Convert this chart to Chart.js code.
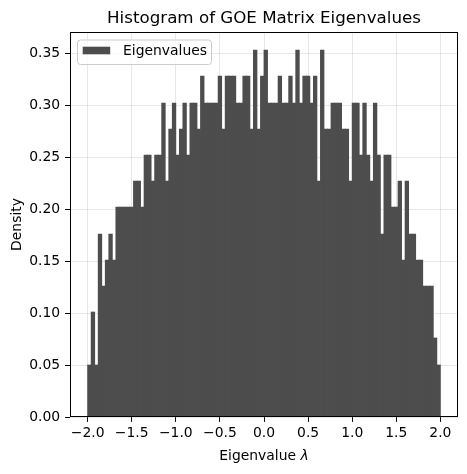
<!DOCTYPE html>
<html>
<head>
<meta charset="utf-8">
<script src="https://cdn.jsdelivr.net/npm/chart.js@4.4.1/dist/chart.umd.min.js"></script>
<style>
  html, body { margin: 0; padding: 0; background: #fff; }
</style>
</head>
<body>
<canvas id="hist" width="467" height="474"></canvas>
<script>
// 100 bins of width 0.04 covering -2 .. 2
const binStart = -2.0;
const binWidth = 0.04;

// density of each bin
const density = [
    0.050, 0.101, 0.050, 0.176, 0.126, 0.151, 0.176, 0.151, 0.202, 0.202,
    0.202, 0.202, 0.202, 0.227, 0.227, 0.202, 0.252, 0.252, 0.227, 0.252,
    0.252, 0.302, 0.227, 0.277, 0.302, 0.252, 0.277, 0.302, 0.252, 0.302,
    0.302, 0.277, 0.328, 0.302, 0.302, 0.302, 0.302, 0.328, 0.277, 0.328,
    0.328, 0.328, 0.302, 0.302, 0.328, 0.328, 0.277, 0.353, 0.277, 0.328,
    0.353, 0.302, 0.302, 0.302, 0.328, 0.302, 0.302, 0.328, 0.302, 0.353,
    0.302, 0.328, 0.328, 0.302, 0.328, 0.227, 0.353, 0.277, 0.277, 0.302,
    0.302, 0.302, 0.277, 0.277, 0.227, 0.302, 0.302, 0.252, 0.302, 0.252,
    0.227, 0.302, 0.252, 0.176, 0.252, 0.252, 0.202, 0.202, 0.227, 0.151,
    0.227, 0.176, 0.176, 0.151, 0.151, 0.126, 0.126, 0.126, 0.076, 0.050
];

const xTicks = [-2.0, -1.5, -1.0, -0.5, 0.0, 0.5, 1.0, 1.5, 2.0];
const yTicks = [0.00, 0.05, 0.10, 0.15, 0.20, 0.25, 0.30, 0.35];
const seriesLabel = 'Eigenvalues';
const chartTitle = 'Histogram of GOE Matrix Eigenvalues';

const barColor = '#4d4d4d';
const gridColor = 'rgba(176, 176, 176, 0.3)';
const fontFamily = 'DejaVu Sans';

Chart.defaults.font.family = fontFamily;
Chart.defaults.font.size = 13.9;
Chart.defaults.color = '#000';

const points = density.map((d, i) => ({ x: binStart + (i + 0.5) * binWidth, y: d }));

// title, axes frame, inside legend and the x label (with italic lambda)
const extras = {
    id: 'extras',
    afterDraw(chart) {
        const { ctx, chartArea: a } = chart;
        const cx = (a.left + a.right) / 2;
        ctx.save();

        // title centred over the axes
        ctx.fillStyle = '#000';
        ctx.font = '16.7px "' + fontFamily + '"';
        ctx.textAlign = 'center';
        ctx.textBaseline = 'middle';
        ctx.fillText(chartTitle, cx, 18.7);

        // frame on all four sides
        ctx.strokeStyle = '#000';
        ctx.lineWidth = 1;
        ctx.strokeRect(Math.round(a.left) + 0.5, Math.round(a.top) + 0.5,
            Math.round(a.right - a.left) - 1, Math.round(a.bottom - a.top) - 1);

        // legend box
        const lx = a.left + 7, ly = a.top + 7.5, lw = 134, lh = 24.5;
        ctx.beginPath();
        ctx.roundRect(lx + 0.5, ly + 0.5, lw, lh, 3);
        ctx.fillStyle = 'rgba(255, 255, 255, 0.8)';
        ctx.fill();
        ctx.strokeStyle = '#cccccc';
        ctx.stroke();
        ctx.fillStyle = barColor;
        ctx.fillRect(lx + 5.7, ly + 7.2, 27.5, 7.6);
        ctx.fillStyle = '#000';
        ctx.font = '13.9px "' + fontFamily + '"';
        ctx.textAlign = 'left';
        ctx.fillText(seriesLabel, lx + 46, ly + 12);

        // x axis label
        const part1 = 'Eigenvalue ';
        const part2 = '\u03bb';
        ctx.font = '13.9px "' + fontFamily + '"';
        const w1 = ctx.measureText(part1).width;
        ctx.font = 'italic 13.9px "' + fontFamily + '"';
        const w2 = ctx.measureText(part2).width;
        const x0 = cx - (w1 + w2) / 2;
        ctx.font = '13.9px "' + fontFamily + '"';
        ctx.fillText(part1, x0, 456);
        ctx.font = 'italic 13.9px "' + fontFamily + '"';
        ctx.fillText(part2, x0 + w1, 456);

        ctx.restore();
    }
};

new Chart(document.getElementById('hist'), {
    type: 'bar',
    data: {
        datasets: [{
            label: seriesLabel,
            data: points,
            backgroundColor: barColor,
            borderWidth: 0,
            barPercentage: 1,
            categoryPercentage: 1,
            inflateAmount: 0.4
        }]
    },
    options: {
        responsive: false,
        animation: false,
        layout: {
            padding: { left: 0, right: 9, top: 32, bottom: 0 }
        },
        scales: {
            x: {
                type: 'linear',
                min: -2.2,
                max: 2.2,
                offset: false,
                z: 1,
                border: { display: false },
                grid: {
                    color: gridColor,
                    lineWidth: 1,
                    offset: false,
                    drawTicks: true,
                    tickLength: 4.9,
                    tickColor: '#000'
                },
                ticks: {
                    padding: 3.5,
                    maxRotation: 0,
                    autoSkip: false,
                    callback: v => (v < 0 ? '\u2212' : '') + Math.abs(v).toFixed(1)
                },
                afterBuildTicks: s => { s.ticks = xTicks.map(v => ({ value: v })); },
                afterFit: s => { s.height = 57; }
            },
            y: {
                min: 0,
                max: 0.3705,
                z: 1,
                border: { display: false },
                grid: {
                    color: gridColor,
                    lineWidth: 1,
                    drawTicks: true,
                    tickLength: 4.9,
                    tickColor: '#000'
                },
                ticks: {
                    padding: 5,
                    autoSkip: false,
                    callback: v => v.toFixed(2)
                },
                title: {
                    display: true,
                    text: 'Density',
                    color: '#000',
                    font: { size: 13.9 },
                    padding: { top: 8.7, bottom: 0 }
                },
                afterBuildTicks: s => { s.ticks = yTicks.map(v => ({ value: v })); },
                afterFit: s => { s.width = 70; }
            }
        },
        plugins: {
            legend: { display: false },
            tooltip: { enabled: false },
            title: { display: false }
        }
    },
    plugins: [extras]
});
</script>
</body>
</html>
